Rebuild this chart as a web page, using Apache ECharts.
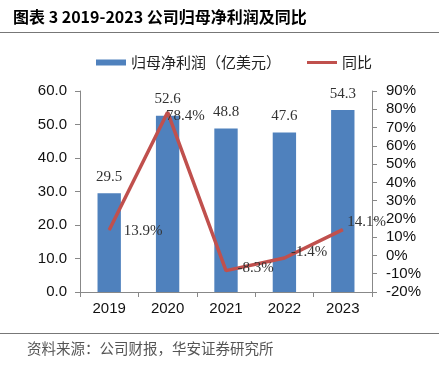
<!DOCTYPE html>
<html>
<head>
<meta charset="utf-8">
<script src="https://cdn.jsdelivr.net/npm/echarts@6/dist/echarts.min.js"></script>
<style>
html,body{margin:0;padding:0;background:#fff;}
#chart{width:439px;height:365px;}
</style>
</head>
<body>
<div id="chart"></div>
<script>
var categories = ['2019', '2020', '2021', '2022', '2023'];
var netProfit = [29.5, 52.6, 48.8, 47.6, 54.3];
var yoy = [13.9, 78.4, -8.3, -1.4, 14.1];
var leftTicks = [0, 10, 20, 30, 40, 50, 60];
var rightTicks = [-20, -10, 0, 10, 20, 30, 40, 50, 60, 70, 80, 90];
var seriesNames = ['归母净利润（亿美元）', '同比'];
var titleText = '图表 3 2019-2023 公司归母净利润及同比';
var sourceText = '资料来源：公司财报，华安证券研究所';

// label offsets (style only)
var yoyLabelOffsets = [[6, 1], [-10, 4], [3, -3], [-2, -6], [-4, -8]];

var CJK = '"Noto Sans CJK SC", "Noto Sans", sans-serif';
var chart = echarts.init(document.getElementById('chart'), null, {renderer: 'canvas'});
var option = {
  animation: false,
  backgroundColor: '#fff',
  graphic: [
    {type: 'text', left: 13, top: 9, style: {text: titleText, font: 'bold 16px ' + CJK, fill: '#000'}},
    {type: 'line', shape: {x1: 0, y1: 32.5, x2: 439, y2: 32.5}, style: {stroke: '#777', lineWidth: 1}},
    {type: 'line', shape: {x1: 0, y1: 333.5, x2: 439, y2: 333.5}, style: {stroke: '#777', lineWidth: 1}},
    {type: 'text', left: 27, top: 341, style: {text: sourceText, font: '14.5px ' + CJK, fill: '#555'}}
  ],
  legend: {
    left: 91, top: 50,
    itemWidth: 30, itemHeight: 6, itemGap: 26,
    textStyle: {fontFamily: CJK, fontSize: 15, color: '#222'},
    data: [
      {name: seriesNames[0], icon: 'rect'},
      {name: seriesNames[1], icon: 'path://M0,0 L30,0 L30,3 L0,3 Z'}
    ]
  },
  grid: {left: 80, right: 67, top: 91, bottom: 73, containLabel: false},
  xAxis: {
    type: 'category', data: categories,
    axisLine: {lineStyle: {color: '#888'}},
    axisTick: {show: true, alignWithLabel: false, length: 5, lineStyle: {color: '#888'}},
    axisLabel: {fontFamily: 'Liberation Sans, Arial', fontSize: 15, color: '#111', margin: 9}
  },
  yAxis: [
    {
      type: 'value', min: leftTicks[0], max: leftTicks[leftTicks.length - 1], interval: 10,
      splitLine: {show: false},
      axisLine: {show: true, lineStyle: {color: '#888'}},
      axisTick: {show: true, length: 5, lineStyle: {color: '#888'}},
      axisLabel: {fontFamily: 'Liberation Sans, Arial', fontSize: 15, color: '#111', margin: 13,
        formatter: function (v) { return v.toFixed(1); }}
    },
    {
      type: 'value', min: rightTicks[0], max: rightTicks[rightTicks.length - 1], interval: 10,
      position: 'right',
      splitLine: {show: false},
      axisLine: {show: true, lineStyle: {color: '#888'}},
      axisTick: {show: true, length: 5, lineStyle: {color: '#888'}},
      axisLabel: {fontFamily: 'Liberation Sans, Arial', fontSize: 15, color: '#111', margin: 14,
        formatter: function (v) { return v + '%'; }}
    }
  ],
  series: [
    {
      name: seriesNames[0], type: 'bar', yAxisIndex: 0, data: netProfit,
      barWidth: '40%',
      itemStyle: {color: '#4F81BD'},
      label: {show: true, position: 'top', distance: 9, fontFamily: 'Liberation Serif, Times New Roman', fontSize: 15, color: '#333',
        formatter: function (p) { return p.value.toFixed(1); }}
    },
    {
      name: seriesNames[1], type: 'line', yAxisIndex: 1,
      data: yoy.map(function (v, i) { return {value: v, label: {offset: yoyLabelOffsets[i]}}; }),
      symbol: 'circle', symbolSize: 1, showSymbol: true,
      lineStyle: {color: '#C0504D', width: 3.5},
      itemStyle: {color: '#C0504D'},
      label: {show: true, position: 'right', distance: 8, fontFamily: 'Liberation Serif, Times New Roman', fontSize: 15, color: '#333',
        formatter: function (p) { return p.value.toFixed(1) + '%'; }},
      z: 3
    }
  ]
};
chart.setOption(option);
</script>
</body>
</html>
